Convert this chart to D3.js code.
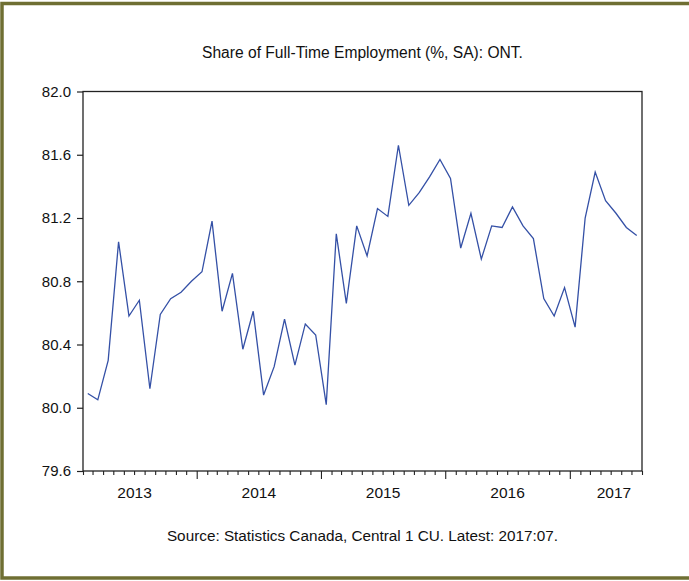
<!DOCTYPE html>
<html>
<head>
<meta charset="utf-8">
<script src="https://cdn.jsdelivr.net/npm/d3@7"></script>
<style>
  html, body { margin: 0; padding: 0; background: #ffffff; }
  svg { display: block; }
  text { font-family: "Liberation Sans", Arial, sans-serif; fill: #111; }
</style>
</head>
<body>
<svg id="chart" width="689" height="581"></svg>
<script>
// ---- data ----
const title = "Share of Full-Time Employment (%, SA): ONT.";
const source = "Source: Statistics Canada, Central 1 CU. Latest: 2017:07.";
const firstMonth = "2013-02";
const lastMonth = "2017-07";
const values = [
  80.09, 80.05, 80.30, 81.05, 80.58, 80.68, 80.12, 80.59, 80.69, 80.73, 80.80,
  80.86, 81.18, 80.61, 80.85, 80.37, 80.61, 80.08, 80.26, 80.56, 80.27, 80.53, 80.46,
  80.02, 81.10, 80.66, 81.15, 80.96, 81.26, 81.21, 81.66, 81.28, 81.36, 81.46, 81.57, 81.45,
  81.01, 81.23, 80.94, 81.15, 81.14, 81.27, 81.15, 81.07, 80.69, 80.58, 80.76, 80.51,
  81.20, 81.49, 81.31, 81.23, 81.14, 81.09
];
const yTicks = [79.6, 80.0, 80.4, 80.8, 81.2, 81.6, 82.0];
const yearLabels = ["2013", "2014", "2015", "2016", "2017"];

// ---- layout ----
const W = 689, H = 581;
const plot = { left: 83, right: 642, top: 91.5, bottom: 471 };
const svg = d3.select("#chart");

// outer border
svg.append("rect")
  .attr("x", 2).attr("y", 3.5)
  .attr("width", 760).attr("height", 574.5)
  .attr("fill", "none")
  .attr("stroke", "#6f6f33")
  .attr("stroke-width", 3.5);

const parseM = d3.timeParse("%Y-%m");
const start = parseM(firstMonth);
const end = d3.timeMonth.offset(parseM(lastMonth), 1);
const months = d3.timeMonth.range(start, end);
const data = months.map((m, i) => ({ date: m, value: values[i] }));

const x = d3.scaleTime().domain([start, end]).range([plot.left, plot.right]);
const y = d3.scaleLinear().domain([79.6, 82.0]).range([plot.bottom, plot.top]);
const xMid = d => (x(d) + x(d3.timeMonth.offset(d, 1))) / 2;

// plot frame
svg.append("rect")
  .attr("x", plot.left).attr("y", plot.top)
  .attr("width", plot.right - plot.left).attr("height", plot.bottom - plot.top)
  .attr("fill", "none").attr("stroke", "#222").attr("stroke-width", 1.3);

// y axis
const yAxis = d3.axisLeft(y).tickValues(yTicks).tickFormat(d3.format(".1f"))
  .tickSize(6).tickPadding(6);
const gy = svg.append("g").attr("transform", `translate(${plot.left},0)`).call(yAxis);
gy.select(".domain").remove();
gy.selectAll("line").attr("stroke", "#222").attr("stroke-width", 1.2);
gy.selectAll("text").style("font-size", "15px").style("font-family", "'Liberation Sans', Arial, sans-serif").attr("fill", "#111");

// x axis: monthly ticks, major at January
const tickDates = d3.timeMonth.range(start, d3.timeMonth.offset(end, 1));
const xAxis = d3.axisBottom(x).tickValues(tickDates)
  .tickSize(4).tickFormat("");
const gx = svg.append("g").attr("transform", `translate(0,${plot.bottom})`).call(xAxis);
gx.select(".domain").remove();
gx.selectAll(".tick line")
  .attr("stroke", "#222").attr("stroke-width", 1.1)
  .attr("y2", d => d.getMonth() === 0 ? 8 : 4);

// year labels
const labelPos = yr => {
  const a = new Date(+yr, 0, 1), b = new Date(+yr + 1, 0, 1);
  let c = (x(a) + x(b)) / 2;
  const maxC = plot.right - 28;
  return Math.min(c, maxC);
};
svg.append("g").selectAll("text").data(yearLabels).join("text")
  .attr("x", d => labelPos(d))
  .attr("y", plot.bottom + 27)
  .attr("text-anchor", "middle")
  .style("font-size", "15.5px")
  .text(d => d);

// line
const line = d3.line().x(d => xMid(d.date)).y(d => y(d.value));
svg.append("path").datum(data)
  .attr("d", line)
  .attr("fill", "none")
  .attr("stroke", "#3450a6")
  .attr("stroke-width", 1.3)
  .attr("stroke-linejoin", "miter");

// title and source
svg.append("text")
  .attr("x", (plot.left + plot.right) / 2).attr("y", 58)
  .attr("text-anchor", "middle")
  .style("font-size", "15.6px")
  .text(title);
svg.append("text")
  .attr("x", (plot.left + plot.right) / 2).attr("y", 541)
  .attr("text-anchor", "middle")
  .style("font-size", "15.3px")
  .text(source);
</script>
</body>
</html>
